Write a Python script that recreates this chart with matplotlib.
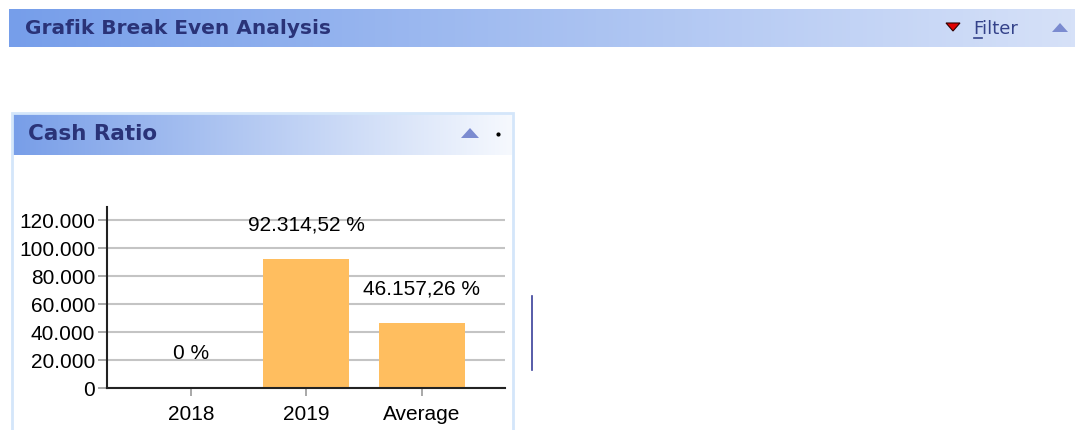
import numpy as np
import matplotlib.pyplot as plt
from matplotlib.patches import Polygon, Rectangle

# Data
categories = ['2018', '2019', 'Average']
values = [0.0, 92314.52, 46157.26]
value_labels = ['0 %', '92.314,52 %', '46.157,26 %']
y_ticks = [0, 20000, 40000, 60000, 80000, 100000, 120000]
y_tick_labels = ['0', '20.000', '40.000', '60.000', '80.000', '100.000', '120.000']

W, H = 1084, 430
fig = plt.figure(figsize=(W / 100, H / 100), dpi=100)
fig.patch.set_facecolor('white')

def fx(px):
    return px / W

def fy(py):
    return 1 - py / H

def gradient_bar(x0, y0, x1, y1, c_left, c_right):
    # horizontal gradient strip in pixel coordinates
    ax = fig.add_axes([fx(x0), fy(y1), fx(x1 - x0), (y1 - y0) / H])
    ax.set_axis_off()
    t = np.linspace(0, 1, 256)[None, :, None]
    a = np.array(c_left)[None, None, :] / 255
    b = np.array(c_right)[None, None, :] / 255
    ax.imshow(a + (b - a) * t, aspect='auto', extent=[0, 1, 0, 1])
    return ax

# Top header bar
gradient_bar(9, 9, 1075, 47, (118, 158, 234), (214, 225, 248))
fig.text(fx(25), fy(28), 'Grafik Break Even Analysis', fontsize=14.5, fontweight='bold',
         color='#2a3378', va='center', ha='left', family='DejaVu Sans')
fig.text(fx(973), fy(29), 'Filter', fontsize=13, color='#34428a', va='center',
         ha='left', family='DejaVu Sans')
fig.add_artist(plt.Line2D([fx(974), fx(982)], [fy(38), fy(38)], color='#34428a', lw=1.2))
fig.add_artist(Polygon([[fx(946), fy(23)], [fx(960), fy(23)], [fx(953), fy(31)]],
                       closed=True, facecolor='#e00000', edgecolor='#300000', lw=0.8))
fig.add_artist(Polygon([[fx(1052), fy(32)], [fx(1068), fy(32)], [fx(1060), fy(23)]],
                       closed=True, facecolor='#7b8bd0', edgecolor='none'))

# Panel frame and header
fig.add_artist(Rectangle((fx(12), fy(432)), fx(501), (432 - 113) / H, fill=False,
                         edgecolor='#d4e6fa', lw=2))
gradient_bar(13, 114, 512, 155, (120, 158, 232), (246, 249, 254))
fig.text(fx(28), fy(134), 'Cash Ratio', fontsize=15.5, fontweight='bold',
         color='#2a3378', va='center', ha='left', family='DejaVu Sans')
fig.add_artist(Polygon([[fx(461), fy(138)], [fx(479), fy(138)], [fx(470), fy(128)]],
                       closed=True, facecolor='#7b8bd0', edgecolor='none'))
fig.add_artist(plt.Line2D([fx(498)], [fy(134)], marker='o', markersize=2, color='black'))

# Stray vertical line on the right of the panel
fig.add_artist(plt.Line2D([fx(532), fx(532)], [fy(296), fy(370)], color='#3a3f9a', lw=1.2))

# Chart
ax = fig.add_axes([fx(107), fy(388), fx(398), (388 - 207) / H])
x = np.arange(len(categories))
ax.bar(x, values, width=0.745, color='#FFBE5F', zorder=3)
ax.set_xlim(-0.727, 2.72)
ax.set_ylim(0, 129300)
ax.set_yticks(y_ticks)
ax.set_yticklabels(y_tick_labels)
ax.set_xticks(x)
ax.set_xticklabels(categories)
ax.grid(axis='y', color='#c4c4c4', lw=1.5, zorder=0)
for s in ['top', 'right']:
    ax.spines[s].set_visible(False)
for s in ['left', 'bottom']:
    ax.spines[s].set_color('#222222')
    ax.spines[s].set_linewidth(1.5)
    ax.spines[s].set_zorder(4)
ax.tick_params(axis='y', length=6.5, width=1.2, color='#999999', pad=2,
               labelsize=15)
ax.tick_params(axis='x', length=6, width=1.2, color='#999999', pad=6,
               labelsize=15)
for lab in ax.get_xticklabels() + ax.get_yticklabels():
    lab.set_family('Liberation Sans')

for xi, v, lbl in zip(x, values, value_labels):
    ax.annotate(lbl, (xi, v), xytext=(0, 24.5), textcoords='offset points',
                ha='center', va='center', fontsize=15, family='Liberation Sans',
                annotation_clip=False)

fig.savefig('out.png', dpi=100)
